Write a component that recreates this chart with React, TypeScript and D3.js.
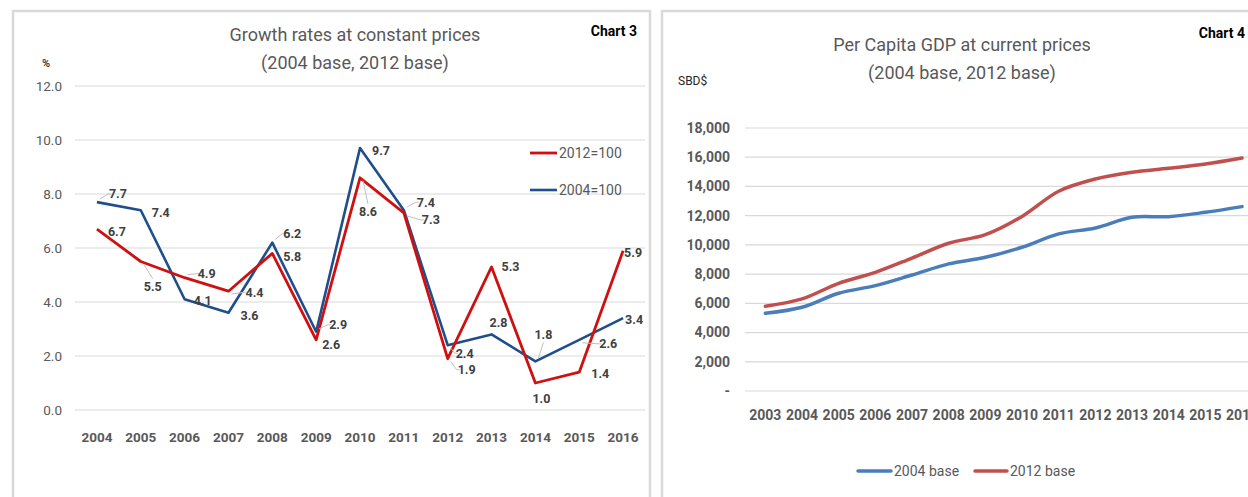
import React from 'react';
import * as d3 from 'd3';

// Chart 3: growth rates
const growthYears = ['2004', '2005', '2006', '2007', '2008', '2009', '2010', '2011', '2012', '2013', '2014', '2015', '2016'];
const growthBase2004 = [7.7, 7.4, 4.1, 3.6, 6.2, 2.9, 9.7, 7.4, 2.4, 2.8, 1.8, 2.6, 3.4];
const growthBase2012 = [6.7, 5.5, 4.9, 4.4, 5.8, 2.6, 8.6, 7.3, 1.9, 5.3, 1.0, 1.4, 5.9];
const growthTicks = [0, 2, 4, 6, 8, 10, 12];

// Chart 4: per capita GDP
const gdpYears = ['2003', '2004', '2005', '2006', '2007', '2008', '2009', '2010', '2011', '2012', '2013', '2014', '2015', '2016'];
const gdpBase2004 = [5320, 5730, 6690, 7210, 7940, 8700, 9150, 9840, 10750, 11160, 11890, 11930, 12230, 12620];
const gdpBase2012 = [5800, 6300, 7370, 8120, 9100, 10110, 10700, 11950, 13670, 14510, 14970, 15240, 15540, 15950];
const gdpTicks = [0, 2000, 4000, 6000, 8000, 10000, 12000, 14000, 16000, 18000];

// label placement (dx, dy from the point, leader line or not)
const labelPos2004: [number, number, boolean][] = [
    [21, -8, true], [20, 2, false], [18, 1, false], [21, 3, false], [20, -9, true], [22, -7, true],
    [21, 3, false], [22, -8, true], [17, 8, true], [7, -12, false], [8, -27, true], [29, 4, true], [11, 1, false]
];
const labelPos2012: [number, number, boolean][] = [
    [20, 3, false], [12, 25, true], [22, -4, true], [26, 1, true], [20, 3, false], [15, 5, false],
    [8, 34, true], [27, 7, true], [19, 11, true], [19, 0, false], [6, 16, false], [21, 1, false], [10, 2, false]
];

const FONT = 'Roboto, "Liberation Sans", sans-serif';
const BLUE3 = '#1f4e8c';
const RED3 = '#d01010';
const BLUE4 = '#4a7ebb';
const RED4 = '#c0504d';
const GRID = '#d9d9d9';
const TXT = '#595959';

function GrowthChart() {
    const x = d3.scaleBand().domain(growthYears).range([75, 645]);
    const y = d3.scaleLinear().domain([0, 12]).range([410, 86]);
    const cx = (d: string) => (x(d) || 0) + x.bandwidth() / 2;

    const line = d3.line<number>()
        .x((_, i) => cx(growthYears[i]))
        .y(d => y(d));

    const labels = (vals: number[], pos: [number, number, boolean][]) => vals.map((v, i) => {
        const px = cx(growthYears[i]);
        const py = y(v);
        const [dx, dy, leader] = pos[i];
        const lx = px + dx;
        const ly = py + dy;
        let tx = lx, ty = ly;
        if (Math.abs(dx) > Math.abs(dy)) {
            tx = lx - 10 * Math.sign(dx);
        } else {
            ty = ly - 8 * Math.sign(dy);
        }
        return (
            <g key={i}>
                {leader && (
                    <path d={`M${px + Math.sign(dx) * 3},${py + Math.sign(dy) * 3}L${tx},${ty}${Math.abs(dx) > Math.abs(dy) ? `L${tx + 3 * Math.sign(dx)},${ty}` : ''}`}
                        fill="none" stroke="#bfbfbf" strokeWidth={1} />
                )}
                <text x={lx} y={ly} dy="0.35em" textAnchor="middle" fontSize={12.5} fontWeight="bold" fill="#404040">{v.toFixed(1)}</text>
            </g>
        );
    });

    return (
        <g>
            <rect x={13} y={11} width={637} height={500} fill="#fff" stroke={GRID} strokeWidth={2.5} />
            <text x={355} y={41} textAnchor="middle" fontSize={18} fill={TXT}>Growth rates at constant prices</text>
            <text x={355} y={69} textAnchor="middle" fontSize={18} fill={TXT}>(2004 base, 2012 base)</text>
            <text x={637} y={36} textAnchor="end" fontSize={14} fontWeight="bold" fill="#000">Chart 3</text>
            <text x={46} y={67} textAnchor="middle" fontSize={11} fontWeight="bold" fill="#404040">%</text>
            {growthTicks.map(t => (
                <g key={t}>
                    <line x1={75} x2={645} y1={y(t)} y2={y(t)} stroke={GRID} strokeWidth={1.2} />
                    <text x={62} y={y(t)} dy="0.35em" textAnchor="end" fontSize={13.5} fill={TXT}>{t.toFixed(1)}</text>
                </g>
            ))}
            {growthYears.map(d => (
                <text key={d} x={cx(d)} y={437} dy="0.35em" textAnchor="middle" fontSize={13.5} fontWeight="bold" fill={TXT}>{d}</text>
            ))}
            <path d={line(growthBase2004) || ''} fill="none" stroke={BLUE3} strokeWidth={2.6} strokeLinejoin="round" />
            <path d={line(growthBase2012) || ''} fill="none" stroke={RED3} strokeWidth={2.8} strokeLinejoin="round" />
            {labels(growthBase2004, labelPos2004)}
            {labels(growthBase2012, labelPos2012)}
            <line x1={530} x2={557} y1={153} y2={153} stroke={RED3} strokeWidth={2.8} />
            <text x={559} y={153} dy="0.35em" fontSize={14} fill={TXT}>2012=100</text>
            <line x1={530} x2={557} y1={190} y2={190} stroke={BLUE3} strokeWidth={2.6} />
            <text x={559} y={190} dy="0.35em" fontSize={14} fill={TXT}>2004=100</text>
        </g>
    );
}

function GdpChart() {
    const x = d3.scaleBand().domain(gdpYears).range([747, 747 + 36.67 * gdpYears.length]);
    const y = d3.scaleLinear().domain([0, 18000]).range([391, 128]);
    const cx = (d: string) => (x(d) || 0) + x.bandwidth() / 2;
    const fmt = d3.format(',');

    const line = d3.line<number>()
        .x((_, i) => cx(gdpYears[i]))
        .y(d => y(d))
        .curve(d3.curveCatmullRom.alpha(0.5));

    return (
        <g>
            <rect x={662} y={11} width={620} height={500} fill="#fff" stroke={GRID} strokeWidth={2.5} />
            <text x={962} y={51} textAnchor="middle" fontSize={18} fill={TXT}>Per Capita GDP at current prices</text>
            <text x={962} y={79} textAnchor="middle" fontSize={18} fill={TXT}>(2004 base, 2012 base)</text>
            <text x={1245} y={38} textAnchor="end" fontSize={14} fontWeight="bold" fill="#000">Chart 4</text>
            <text x={678} y={85} fontSize={12} fill="#262626">SBD$</text>
            {gdpTicks.map(t => (
                <g key={t}>
                    <line x1={745} x2={1260} y1={y(t)} y2={y(t)} stroke={GRID} strokeWidth={1.2} />
                    <text x={730} y={y(t)} dy="0.35em" textAnchor="end" fontSize={14} fontWeight="bold" fill={TXT}>{t === 0 ? '-' : fmt(t)}</text>
                </g>
            ))}
            {gdpYears.map(d => (
                <text key={d} x={cx(d)} y={415} dy="0.35em" textAnchor="middle" fontSize={14} fontWeight="bold" fill={TXT}>{d}</text>
            ))}
            <path d={line(gdpBase2004) || ''} fill="none" stroke={BLUE4} strokeWidth={3.5} strokeLinecap="round" />
            <path d={line(gdpBase2012) || ''} fill="none" stroke={RED4} strokeWidth={3.5} strokeLinecap="round" />
            <line x1={858} x2={891} y1={471} y2={471} stroke={BLUE4} strokeWidth={3.5} strokeLinecap="round" />
            <text x={894} y={471} dy="0.35em" fontSize={14} fill={TXT}>2004 base</text>
            <line x1={975} x2={1007} y1={471} y2={471} stroke={RED4} strokeWidth={3.5} strokeLinecap="round" />
            <text x={1010} y={471} dy="0.35em" fontSize={14} fill={TXT}>2012 base</text>
        </g>
    );
}

export default function App() {
    return (
        <svg width={1248} height={497} style={{ position: 'absolute', left: 0, top: 0, background: '#fff' }} fontFamily={FONT}>
            <rect x={0} y={0} width={1248} height={497} fill="#fff" />
            <GrowthChart />
            <GdpChart />
        </svg>
    );
}
